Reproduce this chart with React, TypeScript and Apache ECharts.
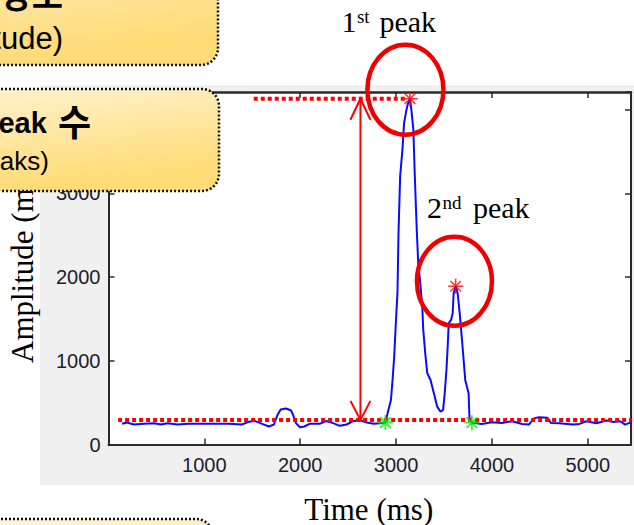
import React, { useEffect, useRef } from 'react';
import * as echarts from 'echarts';

// ---- data ----
const timeMs = [
  141, 194, 264, 370, 476, 546, 616, 722, 828, 969, 1109, 1250, 1391, 1462, 1532, 1603, 1673, 1726,
  1761, 1796, 1849, 1902, 1927, 1955, 1997, 2043, 2096, 2201, 2272, 2342, 2413, 2483, 2553, 2624,
  2694, 2765, 2835, 2888, 2911, 2946, 2963, 2980, 2997, 3014, 3025, 3042, 3066, 3083, 3108, 3125,
  3145, 3159, 3180, 3194, 3214, 3232, 3249, 3273, 3283, 3307, 3325, 3359, 3394, 3428, 3463, 3490,
  3507, 3525, 3538, 3549, 3573, 3590, 3600, 3621, 3642, 3663, 3687, 3704, 3721, 3738, 3756, 3766,
  3790, 3821, 3892, 3998, 4103, 4209, 4315, 4385, 4438, 4491, 4579, 4614, 4702, 4843, 4913, 4984,
  5089, 5195, 5266, 5336, 5389, 5434, 5450,
];
const amplitude = [
  248, 264, 240, 248, 256, 240, 256, 240, 248, 248, 248, 248, 240, 272, 281, 248, 216, 240,
  350, 419, 431, 411, 350, 256, 207, 216, 248, 248, 281, 256, 224, 240, 281, 289,
  264, 248, 256, 264, 374, 533, 772, 1051, 1449, 1808, 2525, 3202, 3521, 3839, 3999, 4078,
  4130, 3999, 3760, 3242, 2605, 2127, 1967, 1649, 1370, 1051, 852, 772, 613, 454, 394, 414,
  613, 892, 1171, 1449, 1489, 1569, 1808, 1890, 1808, 1569, 1250, 1011, 772, 693, 613, 294,
  262, 259, 247, 267, 259, 279, 247, 239, 312, 328, 320, 259, 255, 239, 247, 279,
  255, 287, 271, 279, 239, 259, 255,
];
const peakTimes = [3145, 3621];
const peakValues = [4130, 1890];
const onsetTimes = [2888, 3790];
const onsetValues = [264, 262];
const thresholdTimes = [100, 5450];
const thresholdValue = 295;
const maxLineTimes = [1515, 3100];
const maxLineValue = 4130;
const arrowTime = 2628;
const xTicks = [1000, 2000, 3000, 4000, 5000];
const yTicks = [0, 1000, 2000, 3000, 4000];
const xRange = [0, 5450];
const yRange = [0, 4210];
const xTitle = 'Time (ms)';
const yTitle = 'Amplitude (mV)';
const peakLabels = [
  { num: '1', sup: 'st', word: 'peak' },
  { num: '2', sup: 'nd', word: 'peak' },
];
const box1Lines = ['신호 강도', '(Amplitude)'];
const box2Lines = ['Peak', '수', '(No. of peaks)'];

const SERIF = '"Liberation Serif", "Times New Roman", serif';
const SANS = '"Liberation Sans", Arial, sans-serif';
const KR = '"Liberation Sans", "Noto Sans CJK KR", sans-serif';

const STAR = 'path://M5,0L5,10M0,5L10,5M1.5,1.5L8.5,8.5M1.5,8.5L8.5,1.5';

export default function App() {
  const ref = useRef<HTMLDivElement>(null);

  useEffect(() => {
    if (!ref.current) return;
    const chart = echarts.init(ref.current, null, { renderer: 'svg' });
    const axisColor = '#2a2a2a';
    const labelColor = '#1c1c2c';
    const mkX = (pos: 'bottom' | 'top', labels: boolean) => ({
      type: 'value',
      position: pos,
      min: xRange[0],
      max: xRange[1],
      interval: 1000,
      axisLine: { show: true, onZero: false, lineStyle: { color: axisColor, width: pos === 'top' ? 2.5 : 2 } },
      axisTick: { show: true, inside: true, length: 6, lineStyle: { color: axisColor, width: 1.5 } },
      axisLabel: {
        show: labels,
        fontSize: 20,
        fontFamily: SANS,
        color: labelColor,
        margin: 10,
        formatter: (v: number) => (xTicks.includes(v) ? String(v) : ''),
      },
      splitLine: { show: false },
    });
    const mkY = (pos: 'left' | 'right', labels: boolean) => ({
      type: 'value',
      position: pos,
      min: yRange[0],
      max: yRange[1],
      interval: 1000,
      axisLine: { show: true, onZero: false, lineStyle: { color: axisColor, width: 2 } },
      axisTick: { show: true, inside: true, length: 6, lineStyle: { color: axisColor, width: 1.5 } },
      axisLabel: {
        show: labels,
        fontSize: 20,
        fontFamily: SANS,
        color: labelColor,
        margin: 8,
        formatter: (v: number) => (yTicks.includes(v) ? String(v) : ''),
      },
      splitLine: { show: false },
    });

    const signal = timeMs.map((t, i) => [t, amplitude[i]]);
    const threshold = thresholdTimes.map((t) => [t, thresholdValue]);
    const maxLine = maxLineTimes.map((t) => [t, maxLineValue]);
    const peaks = peakTimes.map((t, i) => [t, peakValues[i]]);
    const onsets = onsetTimes.map((t, i) => [t, onsetValues[i]]);

    chart.setOption({
      animation: false,
      backgroundColor: '#ffffff',
      grid: { left: 108.5, top: 92, right: -1.5, bottom: 80.4, containLabel: false },
      xAxis: [mkX('bottom', true), mkX('top', false)],
      yAxis: [mkY('left', true), mkY('right', false)],
      series: [
        {
          type: 'line',
          data: signal,
          showSymbol: false,
          lineStyle: { color: '#0a0aff', width: 2 },
          z: 2,
        },
        {
          type: 'line',
          data: threshold,
          showSymbol: false,
          lineStyle: { color: '#ff0000', width: 4, type: [4, 3] },
          z: 3,
        },
        {
          type: 'line',
          data: maxLine,
          showSymbol: false,
          lineStyle: { color: '#ff0000', width: 4, type: [4, 3] },
          z: 3,
        },
        {
          type: 'scatter',
          data: peaks,
          symbol: STAR,
          symbolSize: 15,
          itemStyle: { color: '#ff0000', borderColor: '#ff0000', borderWidth: 1.6 },
          z: 4,
        },
        {
          type: 'scatter',
          data: onsets,
          symbol: STAR,
          symbolSize: 15,
          itemStyle: { color: '#00ee00', borderColor: '#00ee00', borderWidth: 1.8 },
          z: 4,
        },
      ],
    });

    const px = (t: number, v: number) =>
      chart.convertToPixel({ xAxisIndex: 0, yAxisIndex: 0 }, [t, v]) as number[];
    const p0 = px(xRange[0], yRange[0]);
    const p1 = px(xRange[1], yRange[1]);
    const pk1 = px(peakTimes[0], peakValues[0]);
    const pk2 = px(peakTimes[1], peakValues[1]);
    const aTop = px(arrowTime, maxLineValue);
    const aBot = px(arrowTime, thresholdValue);

    const boxStyle = (c0: string, c1: string) => ({
      fill: new echarts.graphic.LinearGradient(0, 0, 0.35, 1, [
        { offset: 0, color: c0 },
        { offset: 1, color: c1 },
      ]),
      stroke: '#111111',
      lineWidth: 2.5,
      lineDash: [2, 2],
    });

    const peakText = (p: number[], i: number, dx: number, dy: number, supDx: number, wordDx: number) => ({
      type: 'group',
      z: 50,
      children: [
        {
          type: 'text',
          x: p[0] + dx,
          y: p[1] + dy,
          style: { text: peakLabels[i].num, font: `30px ${SERIF}`, fill: '#000', align: 'left', verticalAlign: 'middle' },
        },
        {
          type: 'text',
          x: p[0] + dx + supDx,
          y: p[1] + dy - 5,
          style: { text: peakLabels[i].sup, font: `19px ${SERIF}`, fill: '#000', align: 'left', verticalAlign: 'middle' },
        },
        {
          type: 'text',
          x: p[0] + dx + wordDx,
          y: p[1] + dy,
          style: { text: peakLabels[i].word, font: `30px ${SERIF}`, fill: '#000', align: 'left', verticalAlign: 'middle' },
        },
      ],
    });

    chart.setOption({
      graphic: [
        // MATLAB figure background
        { type: 'rect', z: -2, shape: { x: 40, y: 85, width: 600, height: 400 }, style: { fill: '#f0f0f0' } },
        {
          type: 'rect',
          z: -1,
          shape: { x: p0[0], y: p1[1], width: p1[0] - p0[0], height: p0[1] - p1[1] },
          style: { fill: '#ffffff' },
        },
        // axis titles
        {
          type: 'text',
          z: 10,
          x: (p0[0] + p1[0]) / 2 - 1,
          y: 509,
          style: {
            text: xTitle,
            font: `31px ${SERIF}`,
            lineHeight: 28,
            fill: '#000',
            align: 'center',
            verticalAlign: 'middle',
          },
        },
        {
          type: 'text',
          z: 10,
          x: 22.5,
          y: 363,
          rotation: Math.PI / 2,
          style: { text: yTitle, font: `31px ${SERIF}`, fill: '#000', align: 'left', verticalAlign: 'middle' },
        },
        // double arrow
        {
          type: 'line',
          z: 50,
          shape: { x1: aTop[0], y1: aTop[1], x2: aBot[0], y2: aBot[1] },
          style: { stroke: '#ff0000', lineWidth: 2 },
        },
        {
          type: 'polyline',
          z: 50,
          shape: { points: [[aTop[0] - 10, aTop[1] + 21], [aTop[0], aTop[1]], [aTop[0] + 10, aTop[1] + 21]] },
          style: { stroke: '#ff0000', lineWidth: 2, fill: 'none' },
        },
        {
          type: 'polyline',
          z: 50,
          shape: { points: [[aBot[0] - 10, aBot[1] - 19], [aBot[0], aBot[1]], [aBot[0] + 10, aBot[1] - 19]] },
          style: { stroke: '#ff0000', lineWidth: 2, fill: 'none' },
        },
        // circles around peaks
        {
          type: 'ellipse',
          z: 50,
          shape: { cx: pk1[0] - 4.6, cy: pk1[1] - 9, rx: 38, ry: 45 },
          style: { stroke: '#ee0000', lineWidth: 4.5, fill: 'none' },
        },
        {
          type: 'ellipse',
          z: 50,
          shape: { cx: pk2[0] - 1.2, cy: pk2[1] - 5, rx: 37.5, ry: 44.5 },
          style: { stroke: '#ee0000', lineWidth: 4.5, fill: 'none' },
        },
        peakText(pk1, 0, -68.6, -77, 15.5, 38),
        peakText(pk2, 1, -28.7, -78.5, 15.5, 46),
        // slide boxes
        {
          type: 'rect',
          z: 100,
          shape: { x: -120, y: -60, width: 338, height: 125, r: 17 },
          style: boxStyle('#fff2cc', '#ffdb75'),
        },
        {
          type: 'text',
          z: 101,
          x: 63,
          y: -4,
          style: { text: box1Lines[0], font: `bold 34px ${KR}`, fill: '#000', align: 'right', verticalAlign: 'middle' },
        },
        {
          type: 'text',
          z: 101,
          x: 63,
          y: 38,
          style: { text: box1Lines[1], font: `31px ${SANS}`, fill: '#000', align: 'right', verticalAlign: 'middle' },
        },
        {
          type: 'rect',
          z: 100,
          shape: { x: -120, y: 89, width: 339, height: 102, r: 17 },
          style: boxStyle('#fff4d6', '#ffdc76'),
        },
        {
          type: 'text',
          z: 101,
          x: 91,
          y: 123,
          style: {
            text: `{a|${box2Lines[0]} }{b|${box2Lines[1]}}`,
            align: 'right',
            verticalAlign: 'middle',
            rich: {
              a: { fontSize: 29, fontWeight: 'bold', fontFamily: SANS, fill: '#000', padding: [0, 3, 0, 0] },
              b: { fontSize: 36, fontWeight: 'bold', fontFamily: KR, fill: '#000' },
            },
          },
        },
        {
          type: 'text',
          z: 101,
          x: 49,
          y: 161,
          style: { text: box2Lines[2], font: `26px ${SANS}`, fill: '#000', align: 'right', verticalAlign: 'middle' },
        },
        {
          type: 'rect',
          z: 100,
          shape: { x: -120, y: 519, width: 333, height: 100, r: 17 },
          style: boxStyle('#fff6e0', '#ffe08a'),
        },
      ],
    });

    return () => chart.dispose();
  }, []);

  return <div ref={ref} style={{ position: 'fixed', left: 0, top: 0, width: 634, height: 525 }} />;
}
